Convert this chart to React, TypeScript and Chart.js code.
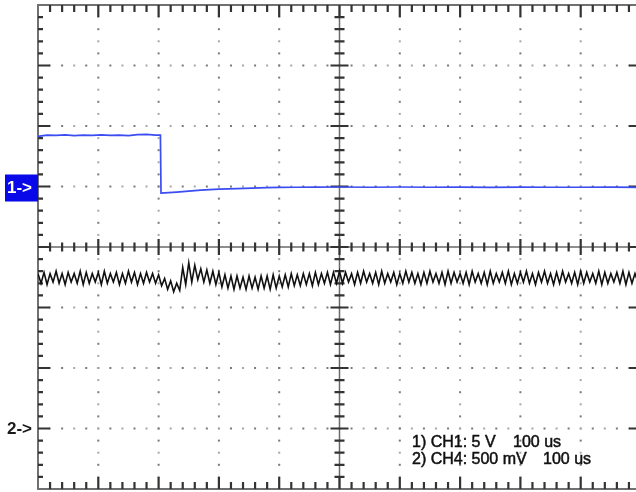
import React, { useEffect, useRef } from "react";
import { Chart, registerables } from "chart.js";

Chart.register(...registerables);

// Channel 1 (5 V/div): sample times in µs and voltages
const CH1_TIME = [0, 15, 30, 45, 60, 75, 90, 105, 120, 135, 150, 165, 180, 195, 203, 204, 210, 230, 250, 270, 300, 330, 355, 380, 400, 430, 460, 500, 550, 600, 650, 700, 750, 800, 850, 900, 950, 1000];
const CH1_VOLTS = [4.15, 4.24, 4.22, 4.26, 4.21, 4.25, 4.22, 4.27, 4.22, 4.24, 4.2, 4.28, 4.3, 4.25, 4.24, -0.55, -0.52, -0.46, -0.38, -0.3, -0.22, -0.17, -0.14, -0.1, -0.08, -0.06, -0.05, -0.04, -0.06, -0.04, -0.06, -0.05, -0.07, -0.05, -0.06, -0.06, -0.05, -0.07];

// Channel 4 (500 mV/div): one sample every 5 µs, volts
const CH2_STEP_US = 5;
const CH2_VOLTS = [
  1.28, 1.2, 1.29, 1.19, 1.28, 1.21, 1.3, 1.2, 1.28, 1.19,
  1.29, 1.21, 1.28, 1.2, 1.3, 1.19, 1.29, 1.2, 1.28, 1.21,
  1.29, 1.19, 1.3, 1.2, 1.28, 1.21, 1.29, 1.19, 1.28, 1.2,
  1.3, 1.21, 1.29, 1.19, 1.28, 1.2, 1.29, 1.21, 1.28, 1.2,
  1.27,
  1.18, 1.24, 1.15, 1.22, 1.13, 1.2, 1.14,
  1.33, 1.19, 1.37, 1.21, 1.35,
  1.23, 1.32, 1.21, 1.31, 1.2, 1.3, 1.19, 1.29,
  1.17, 1.27, 1.16, 1.26, 1.15, 1.26, 1.16, 1.25, 1.15, 1.26,
  1.16, 1.25, 1.15, 1.26, 1.16, 1.26, 1.15, 1.27, 1.16, 1.26,
  1.17, 1.27, 1.17, 1.28, 1.18, 1.27, 1.18, 1.28, 1.19, 1.28,
  1.18, 1.29, 1.19, 1.28, 1.2, 1.29, 1.19, 1.29,
  1.2, 1.3, 1.2, 1.29, 1.21, 1.28, 1.19, 1.29, 1.2, 1.3,
  1.21, 1.28, 1.2, 1.29, 1.19, 1.3, 1.2, 1.28, 1.21, 1.29,
  1.19, 1.28, 1.2, 1.3, 1.21, 1.29, 1.2, 1.28, 1.19, 1.29,
  1.2, 1.3, 1.21, 1.28, 1.2, 1.29, 1.19, 1.3, 1.2, 1.29,
  1.21, 1.28, 1.2, 1.29, 1.19, 1.3, 1.21, 1.28, 1.2, 1.29,
  1.19, 1.3, 1.2, 1.28, 1.21, 1.29, 1.2, 1.3, 1.19, 1.28,
  1.2, 1.29, 1.21, 1.3, 1.2, 1.28, 1.19, 1.29, 1.21, 1.3,
  1.2, 1.28, 1.19, 1.29, 1.2, 1.3, 1.21, 1.28, 1.2, 1.29,
  1.19, 1.3, 1.2, 1.29, 1.21, 1.28, 1.2, 1.3, 1.19, 1.29,
  1.2, 1.28, 1.21, 1.29, 1.2, 1.3, 1.19, 1.29, 1.2, 1.28,
  1.21, 1.29,
];

const READOUT_1 = ["1) CH1: 5 V", "100 us"];
const READOUT_2 = ["2) CH4: 500 mV", "100 us"];

const X_DIVS = 10;
const Y_DIVS = 8;

const scopeGraticule = {
  id: "scopeGraticule",
  beforeDatasetsDraw(chart: any) {
    const { ctx, chartArea } = chart;
    const { left, right, top, bottom } = chartArea;
    const dx = (right - left) / X_DIVS;
    const dy = (bottom - top) / Y_DIVS;
    const cx = left + dx * (X_DIVS / 2);
    const cy = top + dy * (Y_DIVS / 2);
    ctx.save();

    // dotted division lines
    for (let i = 1; i < X_DIVS; i++) {
      if (i === X_DIVS / 2) continue;
      const x = left + i * dx;
      for (let k = 1; k < Y_DIVS * 5; k++) {
        const y = top + (k * dy) / 5;
        ctx.fillStyle = k % 2 ? "#a8a8a8" : "#7a7a7a";
        ctx.fillRect(x - 1, y - 1, 2, 2);
      }
    }
    for (let j = 1; j < Y_DIVS; j++) {
      if (j === Y_DIVS / 2) continue;
      const y = top + j * dy;
      for (let k = 1; k < X_DIVS * 5; k++) {
        const x = left + (k * dx) / 5;
        ctx.fillStyle = k % 2 ? "#a8a8a8" : "#7a7a7a";
        ctx.fillRect(x - 1, y - 1, 2, 2);
      }
    }

    // centre axes
    ctx.strokeStyle = "#6a6a6a";
    ctx.lineWidth = 1.5;
    ctx.beginPath();
    ctx.moveTo(left, cy);
    ctx.lineTo(right, cy);
    ctx.moveTo(cx, top);
    ctx.lineTo(cx, bottom);
    ctx.stroke();

    ctx.strokeStyle = "#333333";
    ctx.lineWidth = 2.2;
    ctx.beginPath();
    for (let k = 1; k < X_DIVS * 5; k++) {
      const x = left + (k * dx) / 5;
      const len = k % 5 === 0 ? 8 : 4.5;
      ctx.moveTo(x, cy - len);
      ctx.lineTo(x, cy + len);
    }
    for (let k = 1; k < Y_DIVS * 5; k++) {
      const y = top + (k * dy) / 5;
      const len = k % 5 === 0 ? 9 : 5;
      ctx.moveTo(cx - len, y);
      ctx.lineTo(cx + len, y);
    }
    ctx.stroke();

    // frame
    ctx.strokeStyle = "#707070";
    ctx.lineWidth = 2;
    ctx.strokeRect(left, top, right - left, bottom - top);

    // frame ticks pointing inward
    ctx.strokeStyle = "#333333";
    ctx.lineWidth = 2.2;
    ctx.beginPath();
    for (let k = 1; k < X_DIVS * 5; k++) {
      const x = left + (k * dx) / 5;
      const len = k % 5 === 0 ? 12 : 7;
      ctx.moveTo(x, top);
      ctx.lineTo(x, top + len);
      ctx.moveTo(x, bottom);
      ctx.lineTo(x, bottom - len);
    }
    for (let k = 1; k < Y_DIVS * 5; k++) {
      const y = top + (k * dy) / 5;
      const len = k % 5 === 0 ? 12 : 5;
      ctx.moveTo(left, y);
      ctx.lineTo(left + len, y);
      ctx.moveTo(right, y);
      ctx.lineTo(right - len, y);
    }
    ctx.stroke();
    ctx.restore();
  },
  afterDatasetsDraw(chart: any) {
    const { ctx, chartArea, scales } = chart;
    const { left } = chartArea;
    ctx.save();

    // channel ground markers
    const g1 = scales.y1.getPixelForValue(0);
    const g2 = scales.y2.getPixelForValue(0);
    ctx.fillStyle = "#0808e8";
    ctx.fillRect(5, g1 - 12, left - 5, 27);
    ctx.font = 'bold 17px "Liberation Sans", Arial, sans-serif';
    ctx.textBaseline = "middle";
    ctx.textAlign = "left";
    ctx.fillStyle = "#ffffff";
    ctx.fillText("1->", 7, g1 + 1.5);
    ctx.fillStyle = "#1a1a1a";
    ctx.fillText("2->", 7, g2 + 0.5);

    // scale readouts
    ctx.font = '16px "Liberation Sans", Arial, sans-serif';
    ctx.textBaseline = "alphabetic";
    ctx.fillStyle = "#111111";
    ctx.strokeStyle = "#111111";
    ctx.lineWidth = 0.5;
    const put = (s: string, x: number, y: number) => {
      ctx.fillText(s, x, y);
      ctx.strokeText(s, x, y);
    };
    put(READOUT_1[0], 412, 447);
    put(READOUT_1[1], 513, 447);
    put(READOUT_2[0], 412, 464);
    put(READOUT_2[1], 543, 464);
    ctx.restore();
  },
};

export default function App() {
  const canvasRef = useRef<HTMLCanvasElement | null>(null);

  useEffect(() => {
    const canvas = canvasRef.current;
    if (!canvas) return;
    const ch1 = CH1_TIME.map((t, i) => ({ x: t, y: CH1_VOLTS[i] }));
    const ch2 = CH2_VOLTS.map((v, i) => ({ x: i * CH2_STEP_US, y: v }));
    const chart = new Chart(canvas, {
      type: "line",
      data: {
        datasets: [
          {
            label: "CH1",
            data: ch1,
            yAxisID: "y1",
            borderColor: "#3a4cf2",
            borderWidth: 1.7,
            pointRadius: 0,
            tension: 0,
          },
          {
            label: "CH4",
            data: ch2,
            yAxisID: "y2",
            borderColor: "#111111",
            borderWidth: 1.6,
            pointRadius: 0,
            tension: 0,
          },
        ],
      },
      options: {
        animation: false,
        responsive: false,
        events: [],
        layout: { padding: { left: 38, right: 19, top: 5, bottom: 3 } },
        scales: {
          x: { type: "linear", min: 0, max: 1000, display: false },
          y1: { type: "linear", min: -25, max: 15, display: false },
          y2: { type: "linear", min: -0.5, max: 3.5, display: false },
        },
        plugins: {
          legend: { display: false },
          tooltip: { enabled: false },
        },
      },
      plugins: [scopeGraticule],
    });
    return () => chart.destroy();
  }, []);

  return (
    <div
      style={{
        position: "fixed",
        left: 0,
        top: 0,
        width: 636,
        height: 492,
        overflow: "hidden",
        background: "#ffffff",
      }}
    >
      <canvas ref={canvasRef} width={660} height={492} style={{ display: "block" }} />
    </div>
  );
}
